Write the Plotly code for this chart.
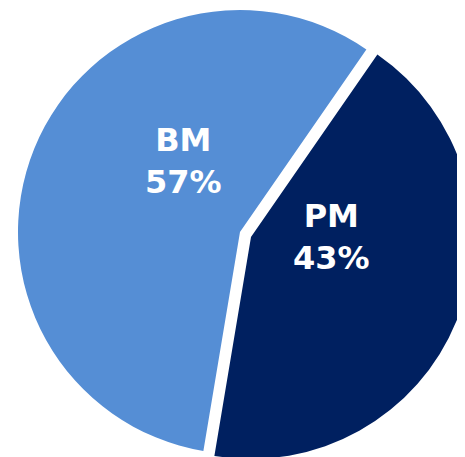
import plotly.graph_objects as go

labels = ["BM", "PM"]
values = [57, 43]
colors = ["#558ED5", "#002060"]

W, H = 465, 457
# the page body adds an 8px offset; positions below are in figure pixels
OFF = 8
CLEAR = "rgba(0,0,0,0)"


def px_domain(cx, cy, r):
    cx, cy = cx - OFF, cy - OFF
    return dict(x=[max(0, (cx - r) / W), min(1, (cx + r) / W)],
                y=[max(0, 1 - (cy + r) / H), min(1, 1 - (cy - r) / H)])


common = dict(labels=labels, values=values, sort=False, direction="clockwise",
              rotation=189.5, textinfo="none", hoverinfo="label+percent",
              showlegend=False)

fig = go.Figure()
# BM slice
fig.add_trace(go.Pie(
    **common,
    domain=px_domain(240, 232, 222),
    marker=dict(colors=[colors[0], CLEAR], line=dict(width=0)),
))
# PM slice (exploded)
fig.add_trace(go.Pie(
    **common,
    domain=px_domain(251, 237, 222),
    marker=dict(colors=[CLEAR, colors[1]], line=dict(width=0)),
))

total = sum(values)
label_pos = [(183, 160.5), (331, 236.5)]
for lab, val, (x, y) in zip(labels, values, label_pos):
    fig.add_annotation(
        x=(x - OFF) / W, y=1 - (y - OFF) / H, xref="paper", yref="paper",
        text=f"{lab}<br>{round(100 * val / total)}%",
        showarrow=False, xanchor="center", yanchor="middle",
        font=dict(family="DejaVu Sans", size=32, color="white", weight="bold"),
    )

fig.update_layout(width=W, height=H, margin=dict(l=0, r=0, t=0, b=0),
                  paper_bgcolor="white", plot_bgcolor="white")
fig.write_html("out.html")
